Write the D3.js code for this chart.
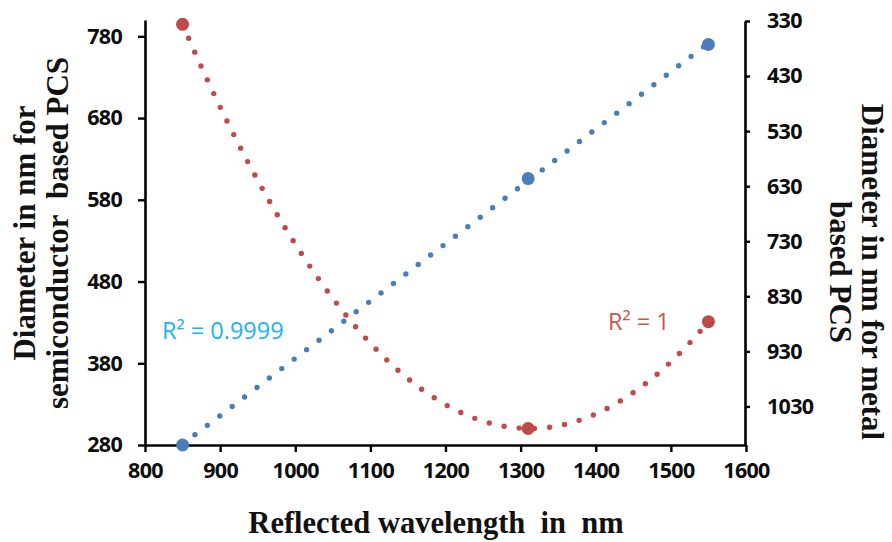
<!DOCTYPE html>
<html>
<head>
<meta charset="utf-8">
<script src="https://cdn.jsdelivr.net/npm/d3@7"></script>
<style>
  html, body { margin: 0; padding: 0; background: #fff; }
  svg { display: block; }
</style>
</head>
<body>
<svg id="chart" width="892" height="542"></svg>
<script>
// ---- data ----
const wavelengths = [850, 1310, 1550];            // reflected wavelength (nm)
const semiconductorDiam = [280, 606, 770];        // left axis (nm)
const metalDiam = [336, 1070, 876];               // right axis, reversed (nm)
const xTicks = [800, 900, 1000, 1100, 1200, 1300, 1400, 1500, 1600];
const leftTicks = [280, 380, 480, 580, 680, 780];
const rightTicks = [330, 430, 530, 630, 730, 830, 930, 1030];
const r2Semi = "R\u00B2 = 0.9999";
const r2Metal = "R\u00B2 = 1";
const xTitle = "Reflected wavelength\u00A0 in\u00A0 nm";
const leftTitle = ["Diameter in nm for", "semiconductor\u00A0 based PCS"];
const rightTitle = ["Diameter in nm for metal", "based PCS"];

const blue = "#4A7EBB", red = "#BE4B48";

const svg = d3.select("#chart");
const x = d3.scaleLinear().domain([800, 1600]).range([145, 746]);
const yL = d3.scaleLinear().domain([280, 800]).range([445, 20]);
const yR = d3.scaleLinear().domain([330, 1100]).range([21, 445]);

const tickFont = "'Open Sans', sans-serif";

function styleAxis(g) {
  g.selectAll("path.domain").attr("stroke", "#000").attr("stroke-width", 2.6);
  g.selectAll(".tick line").attr("stroke", "#000").attr("stroke-width", 2.4);
  g.selectAll(".tick text").attr("fill", "#0d0d0d")
    .style("font-family", tickFont).style("font-weight", "700").style("font-size", "21.5px")
    .style("letter-spacing", "-0.7px");
}

// x axis
svg.append("g").attr("transform", "translate(0,445)")
  .call(d3.axisBottom(x).tickValues(xTicks).tickSizeInner(7).tickSizeOuter(0).tickPadding(11).tickFormat(d3.format("d")))
  .call(styleAxis);

// left axis
svg.append("g").attr("transform", "translate(145,0)")
  .call(d3.axisLeft(yL).tickValues(leftTicks).tickSizeInner(7).tickSizeOuter(0).tickPadding(16).tickFormat(d3.format("d")))
  .call(styleAxis);

// right axis
svg.append("g").attr("transform", "translate(745,0)")
  .call(d3.axisRight(yR).tickValues(rightTicks).tickSizeInner(5).tickSizeOuter(0).tickPadding(17).tickFormat(d3.format("d")))
  .call(styleAxis);

// ---- trendlines ----
function linearFit(xs, ys) {
  const n = xs.length, mx = d3.mean(xs), my = d3.mean(ys);
  let sxy = 0, sxx = 0;
  for (let i = 0; i < n; i++) { sxy += (xs[i]-mx)*(ys[i]-my); sxx += (xs[i]-mx)**2; }
  const b = sxy / sxx, a = my - b*mx;
  return t => a + b*t;
}
function quadFit(xs, ys) {
  const [x0,x1,x2] = xs, [y0,y1,y2] = ys;
  return t => y0*(t-x1)*(t-x2)/((x0-x1)*(x0-x2)) + y1*(t-x0)*(t-x2)/((x1-x0)*(x1-x2)) + y2*(t-x0)*(t-x1)/((x2-x0)*(x2-x1));
}
const fSemi = linearFit(wavelengths, semiconductorDiam);
const fMetal = quadFit(wavelengths, metalDiam);
const samples = d3.range(wavelengths[0], wavelengths[2] + 0.001, 5);

const line = d3.line();
svg.append("path")
  .attr("d", line(samples.map(t => [x(t), yL(fSemi(t))])))
  .attr("fill", "none").attr("stroke", blue).attr("stroke-width", 5.4)
  .attr("stroke-linecap", "round").attr("stroke-dasharray", "0 15.6");
svg.append("path")
  .attr("d", line(samples.map(t => [x(t), yR(fMetal(t))])))
  .attr("fill", "none").attr("stroke", red).attr("stroke-width", 5.4)
  .attr("stroke-linecap", "round").attr("stroke-dasharray", "0 15.2");

// ---- markers ----
svg.selectAll("circle.semi").data(wavelengths).join("circle").attr("class", "semi")
  .attr("cx", d => x(d)).attr("cy", (d, i) => yL(semiconductorDiam[i])).attr("r", 6.5).attr("fill", blue);
svg.selectAll("circle.metal").data(wavelengths).join("circle").attr("class", "metal")
  .attr("cx", d => x(d)).attr("cy", (d, i) => yR(metalDiam[i])).attr("r", 6.5).attr("fill", red);

// ---- R² labels ----
svg.append("text").attr("x", 162).attr("y", 339).text(r2Semi)
  .attr("fill", "#19B4F0").style("font-family", "'Open Sans', sans-serif").style("font-size", "23.5px");
svg.append("text").attr("x", 608).attr("y", 330).text(r2Metal)
  .attr("fill", "#C8584C").style("font-family", "'Open Sans', sans-serif").style("font-size", "23.5px");

// ---- axis titles ----
const titleFont = "'Liberation Serif', 'Times New Roman', serif";
svg.append("text").attr("x", 436).attr("y", 533).attr("text-anchor", "middle").text(xTitle)
  .attr("fill", "#111").style("font-family", titleFont).style("font-weight", "700").style("font-size", "30.5px");

leftTitle.forEach((s, i) => {
  svg.append("text").attr("transform", `translate(${[35, 68][i]},233) rotate(-90)`)
    .attr("text-anchor", "middle").text(s)
    .attr("fill", "#111").style("font-family", titleFont).style("font-weight", "700").style("font-size", "31px");
});
rightTitle.forEach((s, i) => {
  svg.append("text").attr("transform", `translate(${[862, 830][i]},272) rotate(90)`)
    .attr("text-anchor", "middle").text(s)
    .attr("fill", "#111").style("font-family", titleFont).style("font-weight", "700").style("font-size", "31px");
});
</script>
</body>
</html>
